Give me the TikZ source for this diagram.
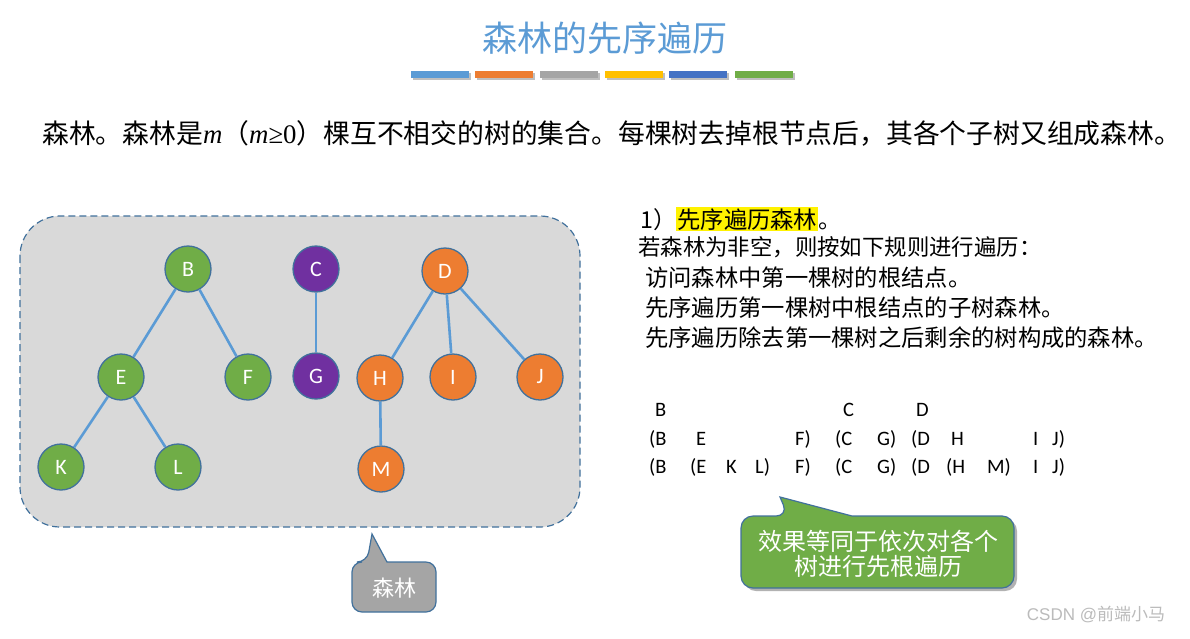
\documentclass[tikz,border=0pt]{standalone}
\usepackage{fontspec}
\setmainfont{Carlito}
\newfontfamily\cjk{Noto Sans CJK SC}
\newfontfamily\tnr{Liberation Serif}
\newfontfamily\arl{Liberation Sans}
\definecolor{cblue}{HTML}{5B9BD5}
\definecolor{corange}{HTML}{ED7D31}
\definecolor{cgray}{HTML}{A5A5A5}
\definecolor{cgold}{HTML}{FFC000}
\definecolor{cdblue}{HTML}{4472C4}
\definecolor{cgreen}{HTML}{70AD47}
\definecolor{cpurple}{HTML}{7030A0}
\definecolor{cborder}{HTML}{41719C}
\definecolor{boxgray}{HTML}{D9D9D9}
\definecolor{wm}{HTML}{BBBBBB}
\tikzset{
  tn/.style={circle, draw=cborder, line width=1.3pt, minimum size=46pt, inner sep=0pt, text=white, font=\fontsize{22}{26}\selectfont},
  edge/.style={draw=cblue, line width=2.6pt},
  bar/.style={inner sep=0pt, minimum width=58pt, minimum height=7pt},
  rt/.style={anchor=base west, inner sep=0pt, font=\fontsize{23.3}{28}\selectfont\cjk},
  sq/.style={anchor=base west, inner sep=0pt, font=\fontsize{20.5}{24}\selectfont},
  cl/.style={text=white, inner sep=0pt, font=\fontsize{24}{28}\selectfont\cjk}
}
\begin{document}
\begin{tikzpicture}[x=1pt,y=-1pt]
\useasboundingbox (0,0) rectangle (1190,638);
\fill[white] (0,0) rectangle (1190,638);
% title
\node[text=cblue, font=\fontsize{35}{40}\selectfont\cjk] (title) at (605,38) {森林的先序遍历};
% bars
\foreach \x/\c [count=\i] in {440/cblue,504/corange,569/cgray,634/cgold,698/cdblue,764/cgreen}{
  \node[bar, fill=black!25] (sh\i) at (\x+1.5,76.5) {};
  \node[bar, fill=\c] (bar\i) at (\x,74.5) {};
}
% intro line
\node[anchor=base west, inner sep=0pt, font=\fontsize{26.8}{32}\selectfont\cjk] (intro) at (42,143)
 {森林。森林是{\tnr\itshape m}（{\tnr\itshape m}{\tnr ≥0}）棵互不相交的树的集合。每棵树去掉根节点后，其各个子树又组成森林。};
% forest box
\draw[dash pattern=on 7pt off 4pt, fill=boxgray, draw=cborder, line width=1.2pt, rounded corners=40pt] (20,216) rectangle (580,527);
% nodes
\node[tn, fill=cgreen] (B) at (188,269) {B};
\node[tn, fill=cpurple] (C) at (316,269) {C};
\node[tn, fill=corange] (D) at (445,271) {D};
\node[tn, fill=cgreen] (E) at (121,377) {E};
\node[tn, fill=cgreen] (F) at (248,377) {F};
\node[tn, fill=cpurple] (G) at (316,376) {G};
\node[tn, fill=corange] (H) at (380,378) {H};
\node[tn, fill=corange] (I) at (453,377) {I};
\node[tn, fill=corange] (J) at (540,377) {J};
\node[tn, fill=cgreen] (K) at (61,467) {K};
\node[tn, fill=cgreen] (L) at (178,467) {L};
\node[tn, fill=corange] (M) at (381,469) {M};
\draw[edge] (B) -- (E);
\draw[edge] (B) -- (F);
\draw[edge] (E) -- (K);
\draw[edge] (E) -- (L);
\draw[edge] (C) -- (G);
\draw[edge] (D) -- (H);
\draw[edge] (D) -- (I);
\draw[edge] (D) -- (J);
\draw[edge] (H) -- (M);
% gray callout
\draw[fill=cgray, draw=cborder, line width=1.2pt]
  [rounded corners=10pt] (352,587) |- (367,562) [sharp corners] -- (372,534) -- (387,562)
  [rounded corners=10pt] -| (436,587) |- (352,612) -- cycle;
\node[cl, font=\fontsize{22}{26}\selectfont\cjk] (forestlbl) at (394,588) {森林};
% right text
\node[rt] (r1) at (640,228) {1）\setlength\fboxsep{1pt}\colorbox{yellow}{先序遍历森林}。};
\node[rt, font=\fontsize{22.4}{27}\selectfont\cjk] (r2) at (638,255) {若森林为非空，则按如下规则进行遍历：};
\node[rt] (r3) at (645,286) {访问森林中第一棵树的根结点。};
\node[rt] (r4) at (645,316) {先序遍历第一棵树中根结点的子树森林。};
\node[rt] (r5) at (645,346) {先序遍历除去第一棵树之后剩余的树构成的森林。};
% sequences
\node[sq] (a1) at (655,416) {B};
\node[sq] (a2) at (843,416) {C};
\node[sq] (a3) at (916,416) {D};
\node[sq] (b1) at (649,445) {(B};
\node[sq] (b2) at (696,445) {E};
\node[sq] (b3) at (795,445) {F)};
\node[sq] (b4) at (835,445) {(C};
\node[sq] (b5) at (877,445) {G)};
\node[sq] (b6) at (911,445) {(D};
\node[sq] (b7) at (951,445) {H};
\node[sq] (b8) at (1033,445) {I};
\node[sq] (b9) at (1052,445) {J)};
\node[sq] (c1) at (649,473) {(B};
\node[sq] (c2) at (690,473) {(E};
\node[sq] (c3) at (726,473) {K};
\node[sq] (c4) at (755,473) {L)};
\node[sq] (c5) at (795,473) {F)};
\node[sq] (c6) at (835,473) {(C};
\node[sq] (c7) at (877,473) {G)};
\node[sq] (c8) at (911,473) {(D};
\node[sq] (c9) at (946,473) {(H};
\node[sq] (c10) at (987,473) {M)};
\node[sq] (c11) at (1033,473) {I};
\node[sq] (c12) at (1052,473) {J)};
% green callout
\fill[black!30, rounded corners=12pt] (744,519) rectangle (1017,591);
\draw[fill=cgreen, draw=cborder, line width=1.2pt]
  [rounded corners=12pt] (741,552) |- (788,516) [sharp corners] -- (780,497) -- (852,516)
  [rounded corners=12pt] -| (1014,552) |- (741,588) -- cycle;
\node[cl] (g1) at (878,541) {效果等同于依次对各个};
\node[cl] (g2) at (878,566) {树进行先根遍历};
% watermark
\node[text=wm, inner sep=0pt, font=\fontsize{17}{20}\selectfont] (wmk) at (1096,614) {\arl CSDN @\cjk 前端小马};
\end{tikzpicture}
\end{document}
